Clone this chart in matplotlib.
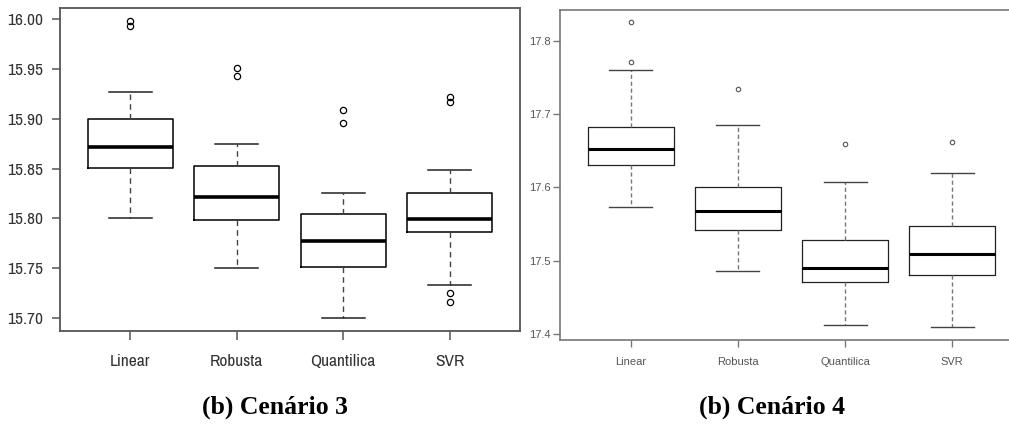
import matplotlib
matplotlib.use('Agg')
import matplotlib.pyplot as plt
from matplotlib import font_manager
import numpy as np

# categories
models = ['Linear', 'Robusta', 'Quantilica', 'SVR']

# ---- Cenario 3 ----
c3_whislo = [15.800, 15.750, 15.700, 15.733]
c3_q1 = [15.851, 15.798, 15.751, 15.786]
c3_med = [15.872, 15.821, 15.777, 15.799]
c3_q3 = [15.900, 15.853, 15.804, 15.825]
c3_whishi = [15.927, 15.875, 15.825, 15.849]
c3_fliers = [[15.998, 15.993], [15.951, 15.943], [15.909, 15.896],
             [15.922, 15.917, 15.725, 15.716]]
c3_ticks = [15.70, 15.75, 15.80, 15.85, 15.90, 15.95, 16.00]

# ---- Cenario 4 ----
c4_whislo = [17.573, 17.486, 17.412, 17.410]
c4_q1 = [17.631, 17.542, 17.471, 17.480]
c4_med = [17.653, 17.568, 17.490, 17.509]
c4_q3 = [17.683, 17.601, 17.528, 17.548]
c4_whishi = [17.760, 17.685, 17.608, 17.620]
c4_fliers = [[17.826, 17.771], [17.734], [17.659], [17.662]]
c4_ticks = [17.4, 17.5, 17.6, 17.7, 17.8]

# narrow sans for left panel if there is one, else plain Liberation Sans a bit smaller
narrow = None
for f in font_manager.fontManager.ttflist:
    if 'Narrow' in f.name or ('Condensed' in f.name and 'Sans' in f.name):
        narrow = f.name
        break
if narrow:
    left_font, left_size = narrow, 12.5
else:
    left_font, left_size = 'Liberation Sans', 11


def make_stats(lo, q1, med, q3, hi, fl):
    stats = []
    for i in range(len(lo)):
        stats.append(dict(whislo=lo[i], q1=q1[i], med=med[i], q3=q3[i],
                          whishi=hi[i], fliers=fl[i], label=models[i]))
    return stats


fig = plt.figure(figsize=(10.09, 4.32), dpi=100)

# ================ left panel ================
ax1 = fig.add_axes([60/1009, 1-331/432, 460/1009, 323/432])
ax1.bxp(make_stats(c3_whislo, c3_q1, c3_med, c3_q3, c3_whishi, c3_fliers),
        positions=[1, 2, 3, 4], widths=0.8,
        boxprops=dict(color='black', lw=1.1),
        medianprops=dict(color='black', lw=2.6, solid_capstyle='butt'),
        whiskerprops=dict(color='#444444', lw=1.0, linestyle=(0, (4, 3))),
        capprops=dict(color='#222222', lw=1.1),
        flierprops=dict(marker='o', markerfacecolor='none', markeredgecolor='black',
                        markersize=4.5, markeredgewidth=0.9))
ax1.set_xlim(0.34, 4.66)
ax1.set_ylim(15.687, 16.011)
ax1.set_yticks(c3_ticks)
ax1.set_yticklabels(['%.2f' % t for t in c3_ticks])
ax1.set_xticks([1, 2, 3, 4])
ax1.set_xticklabels(models)
for lab in ax1.get_xticklabels() + ax1.get_yticklabels():
    lab.set_family(left_font)
    lab.set_fontsize(left_size)
    lab.set_color('#333333')
ax1.tick_params(axis='y', length=6, width=1.1, color='#555555', pad=6)
ax1.tick_params(axis='x', length=6.5, width=1.1, color='#555555', pad=10)
for s in ax1.spines.values():
    s.set_color('#555555')
    s.set_linewidth(1.3)

# ================ right panel ================
ax2 = fig.add_axes([560/1009, 1-340/432, 463/1009, 330/432])
ax2.bxp(make_stats(c4_whislo, c4_q1, c4_med, c4_q3, c4_whishi, c4_fliers),
        positions=[1, 2, 3, 4], widths=0.8,
        boxprops=dict(color='#222222', lw=0.9),
        medianprops=dict(color='black', lw=2.2, solid_capstyle='butt'),
        whiskerprops=dict(color='#777777', lw=1.0, linestyle=(0, (3, 2))),
        capprops=dict(color='#444444', lw=1.0),
        flierprops=dict(marker='o', markerfacecolor='none', markeredgecolor='#555555',
                        markersize=3.2, markeredgewidth=0.8))
ax2.set_xlim(0.34, 4.66)
ax2.set_ylim(17.392, 17.842)
ax2.set_yticks(c4_ticks)
ax2.set_yticklabels(['%.1f' % t for t in c4_ticks])
ax2.set_xticks([1, 2, 3, 4])
ax2.set_xticklabels(models)
for lab in ax2.get_xticklabels() + ax2.get_yticklabels():
    lab.set_family('Liberation Sans')
    lab.set_fontsize(8)
    lab.set_color('#555555')
ax2.tick_params(axis='y', length=5, width=1.0, color='#777777', pad=2)
ax2.tick_params(axis='x', length=5, width=1.0, color='#777777', pad=7)
for s in ax2.spines.values():
    s.set_color('#777777')
    s.set_linewidth(1.2)

# captions
fig.text(275/1009, 1-407/432, '(b) Cenário 3', ha='center', va='center',
         family='Liberation Serif', fontweight='bold', fontsize=18.5)
fig.text(772/1009, 1-407/432, '(b) Cenário 4', ha='center', va='center',
         family='Liberation Serif', fontweight='bold', fontsize=18.5)

fig.savefig('out.png', dpi=100)
